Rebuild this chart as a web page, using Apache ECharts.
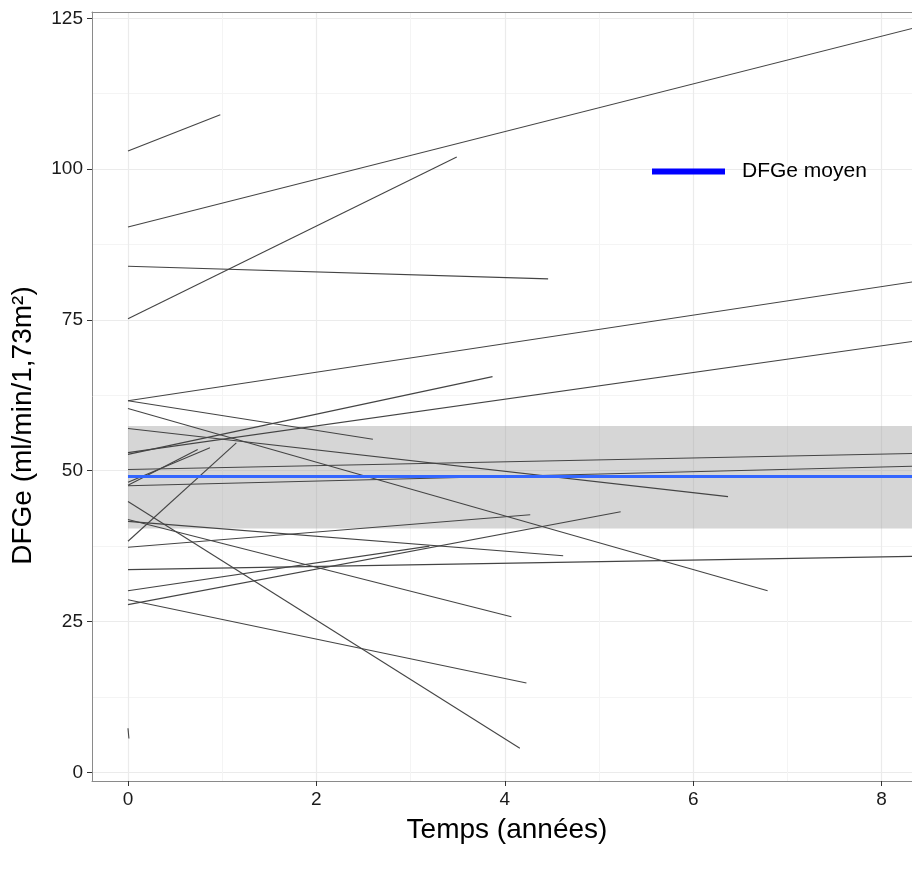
<!DOCTYPE html>
<html>
<head>
<meta charset="utf-8">
<script src="https://cdn.jsdelivr.net/npm/echarts@6/dist/echarts.min.js"></script>
<style>
html, body { margin: 0; padding: 0; background: #fff; }
#chart { width: 912px; height: 875px; }
</style>
</head>
<body>
<div id="chart"></div>
<script>
// trajectoires individuelles du DFGe (debut / fin de suivi)
var tStart = [0, 0, 0, 0, 0, 0, 0, 0, 0, 0, 0, 0, 0, 0, 0, 0, 0, 0, 0, 0, 0, 0, 0, 0];
var vStart = [103.0, 90.4, 75.2, 83.9, 61.6, 53.0, 52.7, 61.6, 60.3, 57.0, 50.2, 47.5,
              47.6, 48.1, 38.3, 44.9, 41.9, 41.6, 37.3, 33.6, 30.1, 27.8, 28.6, 7.3];
var tEnd   = [0.98, 8.5, 3.49, 4.46, 8.5, 8.5, 3.87, 2.6, 6.79, 6.37, 8.5, 8.5,
              0.74, 0.87, 1.15, 4.16, 4.07, 4.62, 4.27, 8.5, 3.2, 5.23, 4.23, 0.01];
var vEnd   = [109.0, 124.0, 102.0, 81.8, 81.7, 71.8, 65.6, 55.2, 30.1, 45.7, 52.9, 50.8,
              53.5, 53.8, 54.6, 4.0, 25.8, 35.9, 42.7, 35.85, 37.5, 43.2, 14.8, 5.6];

// DFGe moyen et son intervalle
var meanT = [0, 8.5];
var meanV = [49.05, 49.05];
var bandLow = 40.4;
var bandHigh = 57.4;

var xTicks = [0, 2, 4, 6, 8];
var xMinor = [1, 3, 5, 7];
var yTicks = [0, 25, 50, 75, 100, 125];
var yMinor = [12.5, 37.5, 62.5, 87.5, 112.5];

var X_MIN = -0.382, X_MAX = 8.323;
var Y_MIN = -1.44, Y_MAX = 126.04;
var FONT = "'Liberation Sans', Arial, sans-serif";

var chart = echarts.init(document.getElementById('chart'));

var series = [];
// ruban gris
series.push({
    type: 'line',
    data: [],
    silent: true,
    z: 1,
    markArea: {
        silent: true,
        itemStyle: { color: 'rgba(153,153,153,0.4)' },
        data: [[{ coord: [0, bandLow] }, { coord: [X_MAX, bandHigh] }]]
    }
});
for (var i = 0; i < tStart.length; i++) {
    series.push({
        type: 'line',
        data: [[tStart[i], vStart[i]], [tEnd[i], vEnd[i]]],
        symbol: 'none',
        silent: true,
        z: 2,
        lineStyle: { color: '#444', width: 1.1 }
    });
}
series.push({
    name: 'DFGe moyen',
    type: 'line',
    data: meanT.map(function (t, k) { return [t, meanV[k]]; }),
    symbol: 'none',
    silent: true,
    z: 3,
    lineStyle: { color: '#3366FF', width: 3 }
});

var option = {
    animation: false,
    backgroundColor: '#fff',
    grid: { left: 92, top: 12, right: 0, bottom: 94 },
    legend: {
        left: 647, top: 156,
        selectedMode: false,
        itemWidth: 73, itemHeight: 6,
        data: [{ name: 'DFGe moyen', icon: 'rect', itemStyle: { color: '#0000FF' } }],
        textStyle: { fontFamily: FONT, fontSize: 21, color: '#000', padding: [0, 0, 0, 12] }
    },
    xAxis: [{
        type: 'value', min: X_MIN, max: X_MAX,
        name: 'Temps (années)', nameLocation: 'middle', nameGap: 35,
        nameTextStyle: { fontFamily: FONT, fontSize: 28, color: '#000', padding: [0, 0, 0, 10] },
        axisLine: { show: true, onZero: false, lineStyle: { color: '#8a8a8a', width: 1 } },
        axisTick: { show: true, length: 5, customValues: xTicks, lineStyle: { color: '#333' } },
        axisLabel: { customValues: xTicks, fontFamily: FONT, fontSize: 19, color: '#1a1a1a', margin: 9 },
        splitLine: { show: true, lineStyle: { color: '#ebebeb', width: 1.2 } }
    }, {
        type: 'value', min: X_MIN, max: X_MAX, position: 'bottom',
        axisLine: { show: false }, axisTick: { show: false, customValues: xMinor },
        axisLabel: { show: false, customValues: xMinor },
        splitLine: { show: true, lineStyle: { color: '#f4f4f4', width: 1 } }
    }, {
        // bord haut du panneau
        type: 'value', min: X_MIN, max: X_MAX, position: 'top',
        axisLine: { show: true, onZero: false, lineStyle: { color: '#8a8a8a', width: 1 } },
        axisTick: { show: false }, axisLabel: { show: false }, splitLine: { show: false }
    }],
    yAxis: [{
        type: 'value', min: Y_MIN, max: Y_MAX,
        name: 'DFGe (ml/min/1,73m²)', nameLocation: 'middle', nameGap: 55,
        nameTextStyle: { fontFamily: FONT, fontSize: 28, color: '#000', padding: [0, 58, 0, 0] },
        axisLine: { show: true, onZero: false, lineStyle: { color: '#8a8a8a', width: 1 } },
        axisTick: { show: true, length: 5, customValues: yTicks, lineStyle: { color: '#333' } },
        axisLabel: { customValues: yTicks, fontFamily: FONT, fontSize: 19, color: '#1a1a1a', margin: 9 },
        splitLine: { show: true, lineStyle: { color: '#ebebeb', width: 1.2 } }
    }, {
        type: 'value', min: Y_MIN, max: Y_MAX, position: 'left',
        axisLine: { show: false }, axisTick: { show: false, customValues: yMinor },
        axisLabel: { show: false, customValues: yMinor },
        splitLine: { show: true, lineStyle: { color: '#f4f4f4', width: 1 } }
    }],
    series: series
};

chart.setOption(option);
</script>
</body>
</html>
